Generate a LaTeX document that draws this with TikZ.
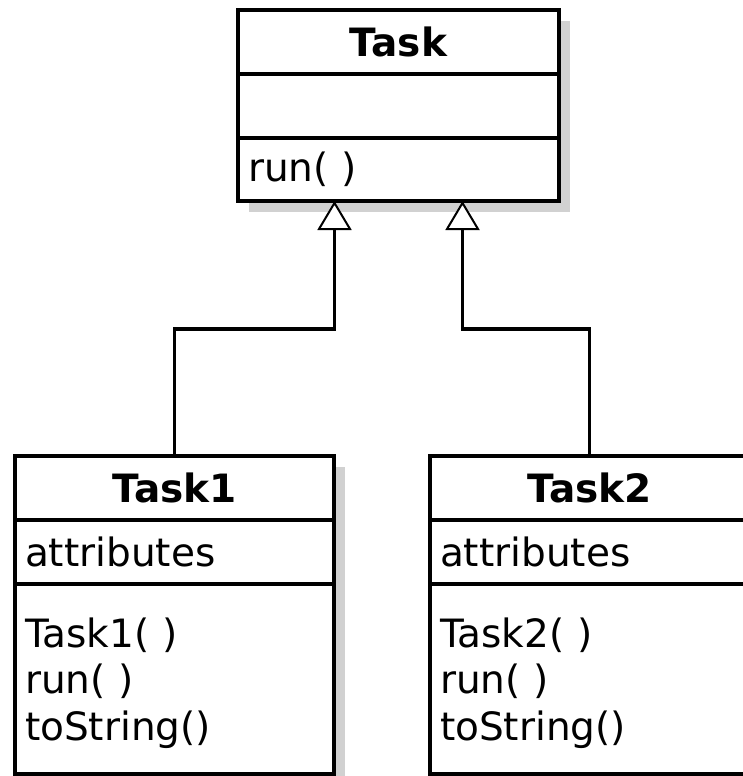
\documentclass[tikz,border=0pt]{standalone}
\usepackage{fontspec}
\setmainfont{DejaVu Sans}
\usepackage{tikz}
\usetikzlibrary{positioning}
\usetikzlibrary{arrows.meta}
\usetikzlibrary{backgrounds}
\tikzset{
    uml font/.style={font=\fontsize{39}{46.5}\selectfont}, % 统一字号
    class title/.style={draw, line width=3.3pt, fill=white, outer sep=0pt, inner sep=0pt,
        minimum width=#1, minimum height=64pt, font=\fontsize{39}{46.5}\selectfont\bfseries}, % 类名格
    class part/.style={draw, line width=3.3pt, fill=white, outer sep=0pt, inner ysep=0pt,
        inner xsep=10pt, text width=#1, align=left, uml font}, % 属性格与方法格
    class shadow/.style={fill=black!18}, % 灰色阴影
    inherit/.style={line width=3.3pt, -{Triangle[length=29pt, width=34pt, line width=2pt, fill=white]}} % 继承箭头
}
\newcommand{\firstline}{\rule{0pt}{38pt}} % 让方法列表略微下移

\begin{document}
\begin{tikzpicture}[x=1pt, y=1pt]
    \useasboundingbox (0,0) rectangle (743,-776);

    % --- 1. 父类 Task ---
    \node[class title=321pt] (task) at (398.5,-42) {Task};
    \node[class part=301pt, minimum height=64pt, below=0pt of task] (task attr) {};
    \node[class part=301pt, minimum height=63pt, below=0pt of task attr] (task methods) {run( )};

    % --- 2. 子类 Task1 与 Task2 ---
    \node[class title=319pt] (task1) at (174.5,-488) {Task1};
    \node[class part=299pt, minimum height=64pt, below=0pt of task1] (task1 attr) {attributes};
    \node[class part=299pt, minimum height=190pt, below=0pt of task1 attr] (task1 methods)
        {\firstline Task1( )\\ run( )\\ toString()};

    \node[class title=319pt] (task2) at (589.5,-488) {Task2};
    \node[class part=299pt, minimum height=64pt, below=0pt of task2] (task2 attr) {attributes};
    \node[class part=299pt, minimum height=190pt, below=0pt of task2 attr] (task2 methods)
        {\firstline Task2( )\\ run( )\\ toString()};

    % --- 3. 阴影放在背景层 ---
    \begin{scope}[on background layer]
        \fill[class shadow] ([shift={(11,-11)}]task.north west) rectangle ([shift={(11,-11)}]task methods.south east);
        \fill[class shadow] ([shift={(11,-11)}]task1.north west) rectangle ([shift={(11,-11)}]task1 methods.south east);
        \fill[class shadow] ([shift={(11,-11)}]task2.north west) rectangle ([shift={(11,-11)}]task2 methods.south east);
    \end{scope}

    % --- 4. 继承关系 ---
    \draw[inherit] (task1.north) -- ++(0,127) -| ([xshift=-64pt]task methods.south);
    \draw[inherit] (task2.north) -- ++(0,127) -| ([xshift=64pt]task methods.south);

\end{tikzpicture}
\end{document}
